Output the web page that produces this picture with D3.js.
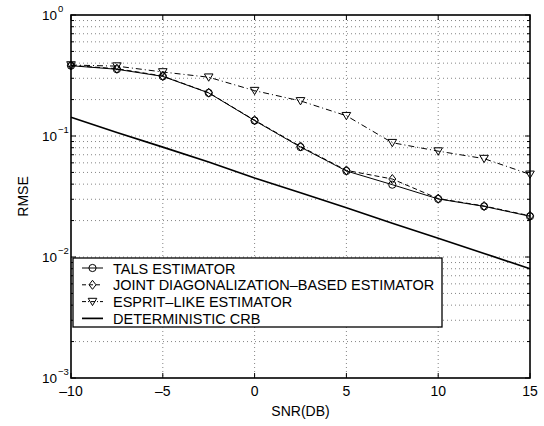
<!DOCTYPE html>
<html>
<head>
<meta charset="utf-8">
<script src="https://cdn.jsdelivr.net/npm/d3@7"></script>
<style>
  body { margin: 0; background: #fff; }
  text { font-family: 'Liberation Sans', Arial, sans-serif; fill: #000; }
</style>
</head>
<body>
<div id="graf"></div>
<script>
// datos
snr = [-10, -7.5, -5, -2.5, 0, 2.5, 5, 7.5, 10, 12.5, 15]
tals = [0.381, 0.356, 0.311, 0.227, 0.134, 0.081, 0.0514, 0.0396, 0.0302, 0.0262, 0.0217]
joint = [0.383, 0.36, 0.313, 0.228, 0.135, 0.082, 0.052, 0.0441, 0.0304, 0.0264, 0.0219]
esprit = [0.386, 0.378, 0.338, 0.306, 0.237, 0.195, 0.147, 0.088, 0.075, 0.065, 0.0482]
crb = [0.143, 0.107, 0.081, 0.061, 0.045, 0.034, 0.0255, 0.019, 0.0143, 0.0107, 0.008]
xTicks = [-10, -5, 0, 5, 10, 15]
yDecades = [-3, -2, -1, 0]
nombres = ['TALS ESTIMATOR', 'JOINT DIAGONALIZATION\u2013BASED ESTIMATOR', 'ESPRIT\u2013LIKE ESTIMATOR', 'DETERMINISTIC CRB']

// I. Configuración
ancho_total = 544
alto_total = 426
margins = { top: 15, left: 71, right: 14, bottom: 48 }
ancho = ancho_total - margins.left - margins.right
alto = alto_total - margins.top - margins.bottom

svg = d3.select('#graf').append('svg')
        .attr('width', ancho_total)
        .attr('height', alto_total)

g = svg.append('g')
       .attr('transform', `translate(${margins.left},${margins.top})`)

x = d3.scaleLinear().domain([-10, 15]).range([0, ancho])
y = d3.scaleLog().domain([1e-3, 1]).range([alto, 0])

// grid
minors = []
yDecades.slice(0, 3).forEach(e => {
  for (let k = 2; k <= 9; k++) minors.push(k * Math.pow(10, e))
})
majors = yDecades.map(e => Math.pow(10, e))

g.selectAll('.gy').data(minors.concat(majors.slice(1, 3)))
  .enter().append('line')
  .attr('x1', 0).attr('x2', ancho)
  .attr('y1', d => y(d)).attr('y2', d => y(d))
  .attr('stroke', '#666').attr('stroke-width', 0.8)
  .attr('stroke-dasharray', '1,3')

g.selectAll('.gx').data(xTicks.slice(1, -1))
  .enter().append('line')
  .attr('x1', d => x(d)).attr('x2', d => x(d))
  .attr('y1', 0).attr('y2', alto)
  .attr('stroke', '#666').attr('stroke-width', 0.8)
  .attr('stroke-dasharray', '1,3')

// ticks hacia dentro (cuatro lados)
function ticksY(xpos, dir) {
  g.selectAll(null).data(majors).enter().append('line')
    .attr('x1', xpos).attr('x2', xpos + dir * 5)
    .attr('y1', d => y(d)).attr('y2', d => y(d))
    .attr('stroke', '#000')
  g.selectAll(null).data(minors).enter().append('line')
    .attr('x1', xpos).attr('x2', xpos + dir * 3)
    .attr('y1', d => y(d)).attr('y2', d => y(d))
    .attr('stroke', '#000')
}
ticksY(0, 1)
ticksY(ancho, -1)
g.selectAll(null).data(xTicks).enter().append('line')
  .attr('x1', d => x(d)).attr('x2', d => x(d))
  .attr('y1', alto).attr('y2', alto - 5).attr('stroke', '#000')
g.selectAll(null).data(xTicks).enter().append('line')
  .attr('x1', d => x(d)).attr('x2', d => x(d))
  .attr('y1', 0).attr('y2', 5).attr('stroke', '#000')

// etiquetas
g.selectAll('.xl').data(xTicks).enter().append('text')
  .attr('x', d => x(d)).attr('y', alto + 18)
  .attr('text-anchor', 'middle').attr('font-size', '14px')
  .text(d => d < 0 ? '\u2013' + Math.abs(d) : d)

g.selectAll('.yl').data(yDecades).enter().append('text')
  .attr('x', -14).attr('y', d => y(Math.pow(10, d)) + 5)
  .attr('text-anchor', 'end').attr('font-size', '13.5px')
  .text('10')
g.selectAll('.ye').data(yDecades).enter().append('text')
  .attr('x', -13).attr('y', d => y(Math.pow(10, d)) - 3)
  .attr('font-size', '9.5px')
  .text(d => d < 0 ? '\u2212' + Math.abs(d) : d)

svg.append('text').attr('x', margins.left + ancho / 2).attr('y', 416)
  .attr('text-anchor', 'middle').attr('font-size', '14px').text('SNR(DB)')
svg.append('text').attr('transform', `translate(28,${margins.top + alto / 2}) rotate(-90)`)
  .attr('text-anchor', 'middle').attr('font-size', '14px').text('RMSE')

// series
series = [
  { v: tals, dash: null, mk: 'o', w: 1 },
  { v: joint, dash: '5,3', mk: 'd', w: 1 },
  { v: esprit, dash: '6,3,1,3', mk: 'v', w: 1 },
  { v: crb, dash: null, mk: null, w: 1.7 }
]
linea = d3.line().x((d, i) => x(snr[i])).y(d => y(d))

function marca(sel, mk) {
  if (mk === 'o') {
    sel.append('circle').attr('r', 3.6)
  } else if (mk === 'd') {
    sel.append('path').attr('d', 'M0,-4.5L3.5,0L0,4.5L-3.5,0Z')
  } else if (mk === 'v') {
    sel.append('path').attr('d', 'M-4.3,-3.3L4.3,-3.3L0,4Z')
  }
  sel.selectAll('circle,path').attr('fill', 'none').attr('stroke', '#000').attr('stroke-width', 1)
}

series.forEach(s => {
  g.append('path').datum(s.v).attr('d', linea)
    .attr('fill', 'none').attr('stroke', '#000')
    .attr('stroke-width', s.w)
    .attr('stroke-dasharray', s.dash)
  if (s.mk) {
    g.selectAll(null).data(s.v).enter().append('g')
      .attr('transform', (d, i) => `translate(${x(snr[i])},${y(d)})`)
      .call(marca, s.mk)
  }
})

// caja
g.append('rect').attr('width', ancho).attr('height', alto)
  .attr('fill', 'none').attr('stroke', '#000').attr('stroke-width', 1.6)

// leyenda
leg = svg.append('g').attr('transform', 'translate(73,258)')
leg.append('rect').attr('width', 369).attr('height', 69)
  .attr('fill', '#fff').attr('stroke', '#000').attr('stroke-width', 1.3)
items = leg.selectAll('.it').data(series).enter().append('g')
  .attr('transform', (d, i) => `translate(0,${10 + i * 16.8})`)
items.append('line').attr('x1', 9).attr('x2', 30)
  .attr('stroke', '#000').attr('stroke-width', d => d.w)
  .attr('stroke-dasharray', d => d.dash ? (d.mk === 'd' ? '4,3' : '4,2,1,2') : null)
items.each(function(d) {
  if (d.mk) d3.select(this).append('g').attr('transform', 'translate(19.5,0)').call(marca, d.mk)
})
items.append('text').attr('x', 40).attr('y', 5.5)
  .attr('font-size', '14.5px').text((d, i) => nombres[i])
</script>
</body>
</html>
